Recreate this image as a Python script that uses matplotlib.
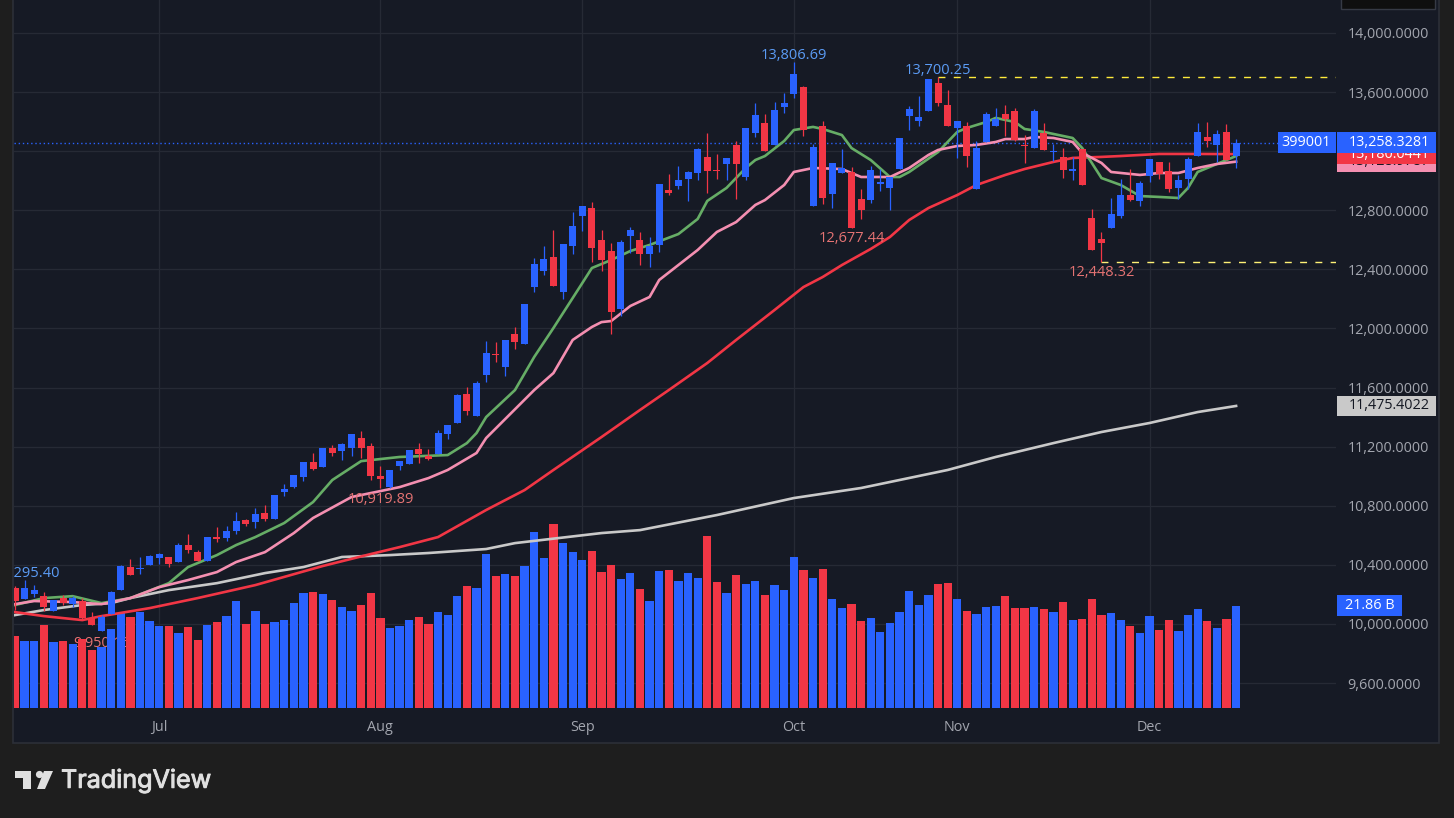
import matplotlib
matplotlib.use('Agg')
import matplotlib.pyplot as plt
import matplotlib.patheffects as pe
from matplotlib.patches import Rectangle, Polygon, Circle

# OHLC, one value per session
opens = [10242, 10168, 10202, 10188, 10086, 10174, 10134, 10154, 10039, 9952,
         10066, 10229, 10384, 10373, 10398, 10445, 10452, 10418, 10533, 10486,
         10425, 10587, 10581, 10628, 10703, 10689, 10750, 10709, 10892, 10926,
         10994, 11095, 11062, 11190, 11170, 11190, 11258, 11204, 11001, 10926,
         11068, 11082, 11183, 11137, 11150, 11286, 11360, 11556, 11407, 11685,
         11827, 11739, 11962, 11894, 12280, 12389, 12483, 12246, 12558, 12761,
         12815, 12598, 12524, 12131, 12626, 12598, 12504, 12565, 12937, 12964,
         13011, 13052, 13160, 13072, 13113, 13242, 13025, 13323, 13391, 13242,
         13499, 13587, 13635, 12829, 13371, 12910, 13052, 13059, 12876, 12870,
         12978, 12951, 13080, 13438, 13405, 13472, 13662, 13513, 13357, 13371,
         12944, 13262, 13371, 13452, 13472, 13242, 13222, 13325, 13194, 13160,
         13065, 13214, 12747, 12605, 12680, 12761, 12903, 12862, 13032, 13127,
         13066, 12950, 13011, 13167, 13296, 13242, 13330, 13167]
highs = [10256, 10295.4, 10262, 10213, 10161, 10195, 10188, 10174, 10080, 10059,
         10222, 10398, 10439, 10452, 10466, 10479, 10452, 10547, 10608, 10499,
         10587, 10655, 10662, 10757, 10709, 10784, 10804, 10872, 10946, 11007,
         11095, 11156, 11190, 11210, 11224, 11285, 11305, 11224, 11068, 11041,
         11102, 11177, 11224, 11184, 11313, 11346, 11556, 11604, 11644, 11915,
         11908, 11921, 12009, 12165, 12477, 12558, 12666, 12571, 12788, 12829,
         12856, 12666, 12578, 12598, 12686, 12653, 12619, 12978, 13045, 13099,
         13066, 13221, 13323, 13181, 13154, 13269, 13357, 13526, 13452, 13533,
         13594, 13806.69, 13642, 13249, 13405, 13120, 13215, 13093, 12944, 13100,
         13080, 13025, 13289, 13506, 13574, 13689, 13700.25, 13614, 13405, 13398,
         13269, 13465, 13493, 13513, 13493, 13310, 13486, 13390, 13248, 13221,
         13160, 13214, 12808, 12653, 12883, 13011, 13079, 12998, 13147, 13127,
         13127, 13038, 13160, 13391, 13397, 13343, 13384, 13282]
lows = [10093, 10168, 10184, 10086, 10086, 10127, 10114, 10032, 9992, 9950.16,
        10066, 10229, 10330, 10337, 10398, 10405, 10384, 10418, 10479, 10425,
        10425, 10554, 10560, 10608, 10662, 10648, 10696, 10709, 10865, 10919,
        10967, 11041, 11062, 11136, 11109, 11136, 11122, 10973, 10919.89, 10919,
        11041, 11082, 11089, 11109, 11150, 11252, 11360, 11414, 11407, 11638,
        11772, 11678, 11860, 11894, 12246, 12361, 12287, 12199, 12504, 12659,
        12450, 12389, 11962, 12084, 12510, 12429, 12416, 12517, 12903, 12944,
        12862, 13005, 12917, 13011, 13005, 12876, 13005, 13296, 13201, 13242,
        13458, 13560, 13303, 12829, 12843, 12815, 13052, 12677.44, 12741, 12849,
        12931, 12802, 13080, 13344, 13371, 13472, 13506, 13371, 13154, 13093,
        12944, 13262, 13371, 13303, 13269, 13120, 13222, 13208, 13133, 13018,
        13004, 12971, 12531, 12448.32, 12680, 12747, 12862, 12829, 12991, 13011,
        12923, 12876, 12944, 13167, 13228, 13126, 13140, 13086]
closes = [10154, 10242, 10229, 10114, 10161, 10141, 10174, 10039, 9992, 10046,
          10215, 10391, 10330, 10378, 10459, 10472, 10405, 10533, 10499, 10425,
          10587, 10574, 10628, 10696, 10676, 10743, 10709, 10872, 10913, 11007,
          11095, 11048, 11190, 11156, 11217, 11285, 11190, 11001, 10980, 11041,
          11102, 11177, 11150, 11116, 11292, 11346, 11550, 11441, 11631, 11834,
          11822, 11921, 11908, 12165, 12436, 12470, 12287, 12571, 12693, 12829,
          12544, 12463, 12111, 12585, 12666, 12504, 12558, 12978, 12917, 13005,
          13059, 13215, 13066, 13066, 13154, 13113, 13357, 13445, 13201, 13479,
          13526, 13723, 13344, 13228, 12883, 13120, 13086, 12680, 12802, 13073,
          12992, 13025, 13289, 13486, 13432, 13689, 13526, 13371, 13405, 13168,
          13222, 13452, 13418, 13418, 13276, 13235, 13472, 13208, 13201, 13072,
          13079, 12971, 12531, 12578, 12774, 12903, 12869, 12984, 13147, 13045,
          12944, 13005, 13147, 13330, 13269, 13316, 13140, 13258.33]
# volume in billions
volumes = [15.4, 14.3, 14.3, 17.8, 14.1, 14.3, 13.7, 14.8, 12.4, 13.0,
           16.9, 20.3, 19.5, 20.5, 18.6, 17.5, 17.5, 16.0, 17.3, 14.5,
           17.8, 18.4, 19.7, 22.9, 18.0, 20.8, 18.0, 18.4, 18.8, 22.5,
           24.6, 24.8, 24.4, 23.1, 21.6, 20.8, 22.0, 24.6, 19.3, 17.1,
           17.5, 18.8, 19.5, 18.0, 20.5, 19.9, 24.0, 26.1, 25.7, 33.0,
           28.3, 28.7, 28.3, 30.4, 37.7, 32.1, 39.4, 35.3, 33.4, 31.7,
           33.6, 29.1, 30.6, 27.6, 28.9, 25.5, 22.9, 29.3, 29.5, 27.2,
           28.9, 27.8, 36.8, 27.0, 24.6, 28.5, 26.6, 27.2, 24.2, 26.4,
           25.3, 32.4, 29.6, 27.9, 29.8, 23.4, 21.4, 22.3, 18.6, 19.3,
           16.3, 18.2, 20.6, 25.1, 22.1, 24.2, 26.6, 26.8, 23.4, 20.8,
           20.1, 21.6, 21.9, 24.0, 21.4, 21.4, 21.6, 21.2, 20.6, 22.7,
           18.9, 19.1, 23.4, 19.9, 20.4, 18.9, 17.6, 16.1, 19.7, 16.7,
           18.9, 16.5, 19.9, 21.2, 18.6, 17.1, 19.1, 21.86]

# moving averages, read at the sessions where the line bends
green_idx = [0, 3, 6, 9, 12, 16, 18, 21, 23, 25, 28, 31, 33, 36, 40, 45, 47, 48, 49, 52,
             54, 56, 59, 60, 62, 64, 66, 69, 71, 72, 74, 76, 77, 78, 80, 81, 83, 84, 86, 87,
             89, 91, 92, 93, 96, 98, 99, 101, 102, 104, 105, 107, 110, 111, 113, 115, 117, 119, 121, 122,
             123, 125, 127]
green_ma = [10128, 10175, 10188, 10141, 10175, 10276, 10385, 10466, 10534, 10588, 10683, 10825, 10974, 11102, 11130, 11143, 11224, 11292, 11400, 11583,
            11807, 12003, 12307, 12409, 12463, 12524, 12565, 12639, 12741, 12863, 12951, 13086, 13140, 13167, 13269, 13343, 13364, 13350, 13309, 13221,
            13140, 13025, 13025, 13059, 13194, 13330, 13357, 13397, 13425, 13397, 13350, 13330, 13289, 13221, 13018, 12971, 12896, 12890, 12883, 12951,
            13059, 13113, 13167]
pink_idx = [0, 2, 6, 9, 12, 15, 18, 21, 23, 26, 29, 31, 35, 40, 43, 45, 48, 49, 54, 56,
            58, 60, 61, 62, 64, 66, 67, 71, 73, 75, 77, 78, 80, 81, 83, 86, 88, 91, 93, 95,
            96, 98, 100, 102, 103, 105, 106, 108, 110, 111, 113, 114, 117, 119, 121, 123, 125, 127]
pink_ma = [10134, 10155, 10148, 10134, 10175, 10249, 10297, 10351, 10419, 10486, 10615, 10717, 10859, 10926, 10987, 11042, 11157, 11258, 11583, 11698,
           11922, 12010, 12043, 12050, 12152, 12213, 12328, 12531, 12653, 12720, 12836, 12869, 12971, 13059, 13086, 13079, 13025, 13025, 13086, 13174,
           13208, 13235, 13242, 13262, 13282, 13282, 13296, 13289, 13262, 13188, 13120, 13059, 13039, 13052, 13052, 13086, 13113, 13128.98]
red_idx = [0, 3, 7, 9, 14, 19, 25, 32, 37, 40, 44, 49, 53, 56, 61, 65, 68, 72, 75, 79,
           82, 84, 86, 89, 91, 93, 95, 98, 100, 103, 105, 108, 110, 113, 115, 119, 123, 127]
red_ma = [10080, 10053, 10026, 10053, 10107, 10175, 10263, 10392, 10473, 10520, 10588, 10771, 10906, 11042, 11265, 11448, 11583, 11766, 11922, 12125,
          12280, 12348, 12429, 12538, 12619, 12734, 12815, 12903, 12971, 13039, 13079, 13127, 13154, 13161, 13167, 13181, 13181, 13180.04]
grey_idx = [0, 3, 7, 10, 12, 16, 21, 26, 30, 34, 39, 43, 49, 52, 61, 65, 73, 81, 88, 97,
            102, 108, 113, 118, 123, 127]
grey_ma = [10060, 10094, 10128, 10141, 10175, 10229, 10276, 10344, 10385, 10453, 10466, 10480, 10507, 10547, 10615, 10635, 10737, 10852, 10920, 11042,
           11130, 11224, 11299, 11360, 11434, 11475.4]

month_idx = [15, 38, 59, 81, 98, 118]
month_labels = ['Jul', 'Aug', 'Sep', 'Oct', 'Nov', 'Dec']
price_ticks = [9600, 10000, 10400, 10800, 11200, 11600, 12000, 12400, 12800, 13200, 13600, 14000]

BLUE = '#2962ff'
RED = '#f23645'
PINK = '#f48fb1'
GREEN = '#66ad66'
GREY = '#c9c9c9'
BG = '#161a25'
GRID = '#262a35'
AXIS_TXT = '#a3a6af'
LABEL_BLUE = '#5b9cf6'
LABEL_RED = '#e57373'
FONT = 'Open Sans'

plt.rcParams['font.family'] = FONT

fig = plt.figure(figsize=(14.54, 8.18), dpi=100, facecolor='#1e1e1e')
W, H = 1454, 818
L, R, B = 14, 1336, 708
pos = [L / W, (H - B) / H, (R - L) / W, B / H]


def ax_x(px):
    # pixel column to axes fraction, for things right of the plot
    return (px - L) / (R - L)


# page chrome in pixel coords
bg = fig.add_axes([0, 0, 1, 1], zorder=0)
bg.set_xlim(0, W)
bg.set_ylim(H, 0)
bg.axis('off')
bg.add_patch(Rectangle((13, -2), 1426, 745, facecolor=BG, edgecolor='#2c2f38', lw=1.2))
bg.add_patch(Rectangle((1341, -6), 94, 15, facecolor='#0f0f0f', edgecolor='#363a45', lw=1))
bg.add_patch(Polygon([(15, 771), (31, 771), (31, 789), (23, 789), (23, 778), (15, 778)], facecolor='#e0e0e0'))
bg.add_patch(Circle((39.5, 774.5), 3.6, facecolor='#e0e0e0'))
bg.add_patch(Polygon([(44, 771), (53, 771), (45, 789), (37, 789)], facecolor='#e0e0e0'))
logo = bg.text(61, 781, 'TradingView', color='#e0e0e0', fontsize=18.1, family='Inter',
               ha='left', va='center')
logo.set_path_effects([pe.withStroke(linewidth=0.7, foreground='#e0e0e0')])

# grid and axis labels
ax = fig.add_axes(pos, zorder=1, facecolor='none')
ax.set_xlim(-0.104, 137.39)
ax.set_ylim(9431, 14223)
ax.set_xticks(month_idx)
ax.set_xticklabels(month_labels)
ax.set_yticks(price_ticks)
ax.set_yticklabels([f'{p:,.4f}' for p in price_ticks], ha='left')
ax.yaxis.tick_right()
ax.tick_params(axis='y', length=0, pad=8.2, labelcolor=AXIS_TXT, labelsize=10.4)
ax.tick_params(axis='x', length=0, pad=8.7, labelcolor=AXIS_TXT, labelsize=10.4)
ax.grid(True, color=GRID, lw=0.9)
ax.set_axisbelow(True)
for s in ax.spines.values():
    s.set_visible(False)

# the 9,950 label sits behind the volume bars
ax.text(9, 9950.16 - 32, '9,950.16', color=LABEL_RED, fontsize=10.4, ha='center', va='top')

# volume
ax_vol = fig.add_axes(pos, zorder=2, facecolor='none', sharex=ax)
ax_vol.set_ylim(0, B / 4.67)
ax_vol.axis('off')
xs = list(range(len(closes)))
is_up = [c >= o for o, c in zip(opens, closes)]
colors = [BLUE if u else RED for u in is_up]
ax_vol.bar(xs, volumes, width=0.86, color=colors, linewidth=0)
ax_vol.add_patch(Rectangle((ax_x(1337), volumes[-1] - 2.25), ax_x(1402) - ax_x(1337), 4.5, facecolor=BLUE,
                           transform=ax_vol.get_yaxis_transform(), clip_on=False))
ax_vol.text(ax_x(1369.5), volumes[-1], f'{volumes[-1]:.2f} B', color='white', fontsize=10.4, ha='center',
            va='center', transform=ax_vol.get_yaxis_transform(), clip_on=False)

# candles and averages
main = fig.add_axes(pos, zorder=3, facecolor='none', sharex=ax, sharey=ax)
main.axis('off')
main.plot(grey_idx, grey_ma, color=GREY, lw=1.9, zorder=2, solid_joinstyle='round')
main.plot(red_idx, red_ma, color=RED, lw=1.9, zorder=2, solid_joinstyle='round')
main.plot(green_idx, green_ma, color=GREEN, lw=1.9, zorder=2, solid_joinstyle='round')
main.plot(pink_idx, pink_ma, color=PINK, lw=1.9, zorder=2.1, solid_joinstyle='round')

main.vlines(xs, lows, highs, colors=colors, lw=0.9, zorder=3)
bodies = [max(abs(c - o), 7) for o, c in zip(opens, closes)]
bottoms = [min(o, c) for o, c in zip(opens, closes)]
main.bar(xs, bodies, bottom=bottoms, width=0.73, color=colors, linewidth=0, zorder=3)

# last price, highest and lowest markers
main.axhline(closes[-1], color=BLUE, lw=1, linestyle=(0, (1, 2)), zorder=1)
i_hi = highs.index(13700.25)
i_lo = lows.index(12448.32)
main.plot([i_hi, 137.39], [13700.25, 13700.25], color='#ffeb3b', lw=1, linestyle=(0, (5, 6)), zorder=2)
main.plot([i_lo, 137.39], [12448.32, 12448.32], color='#fff176', lw=1, linestyle=(0, (5, 6)), zorder=2)

main.text(81, 13806.69 - 10, '13,806.69', color=LABEL_BLUE, fontsize=10.5, ha='center', va='bottom')
main.text(i_hi, 13700.25 - 5, '13,700.25', color=LABEL_BLUE, fontsize=10.5, ha='center', va='bottom')
main.text(87, 12677.44 - 20, '12,677.44', color=LABEL_RED, fontsize=10.5, ha='center', va='top')
main.text(i_lo, 12448.32 - 20, '12,448.32', color=LABEL_RED, fontsize=10.5, ha='center', va='top')
main.text(38, 10919.89 - 25, '10,919.89', color=LABEL_RED, fontsize=10.5, ha='center', va='top')
# cut by the chart's left edge, as in the original
main.text(1.2, 10295.4 - 8, '10,295.40', color=LABEL_BLUE, fontsize=10.5, ha='center', va='bottom', clip_on=True)


def price_tag(value, text, face, txt, x0=1337, x1=1436, z=5, ha='left', text_x=1349):
    trans = main.get_yaxis_transform()
    main.add_patch(Rectangle((ax_x(x0), value - 70), ax_x(x1) - ax_x(x0), 140, facecolor=face,
                             transform=trans, clip_on=False, zorder=z))
    main.text(ax_x(text_x), value, text, color=txt, fontsize=10.4, ha=ha, va='center',
              transform=trans, clip_on=False, zorder=z + 0.1)


price_tag(11475.4022, '11,475.4022', GREY, '#131722')
price_tag(13128.9787, '13,128.9787', PINK, '#131722', z=6)
price_tag(13180.0441, '13,180.0441', RED, 'white', z=7)
price_tag(13258.3281, '13,258.3281', BLUE, 'white', z=8)
price_tag(13258.3281, '399001', BLUE, 'white', x0=1278, x1=1335.5, z=8, ha='center', text_x=1306.5)

plt.savefig('out.png', dpi=100, facecolor=fig.get_facecolor())
